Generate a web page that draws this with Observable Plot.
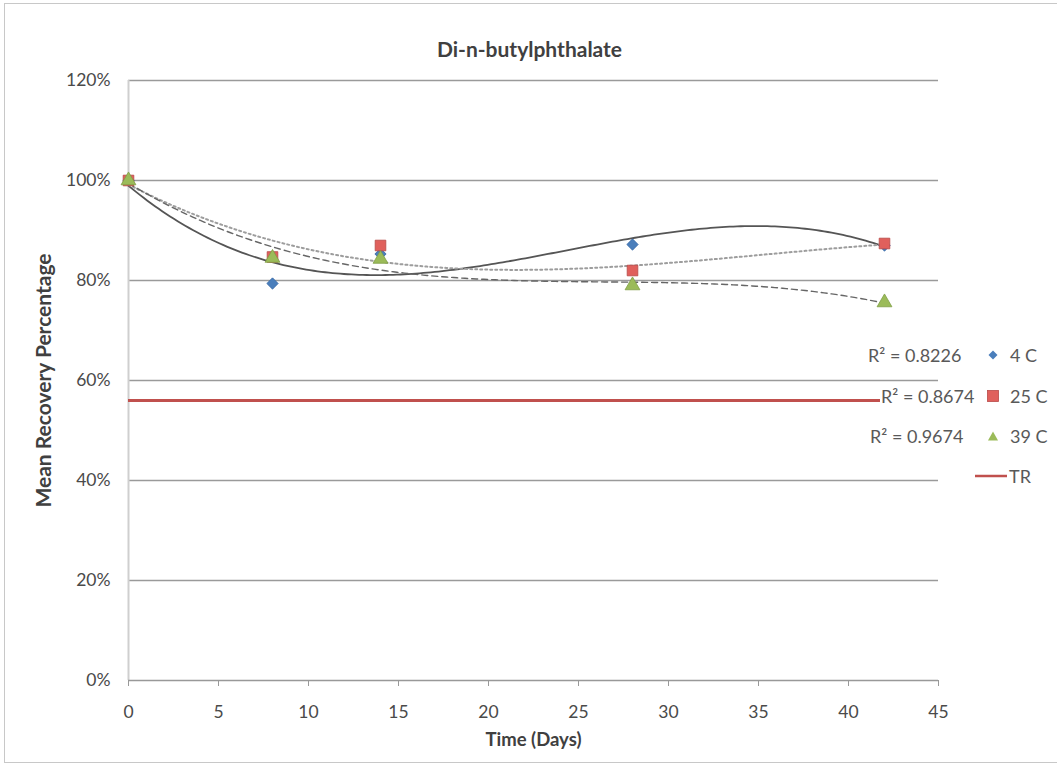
<!DOCTYPE html>
<html>
<head>
<meta charset="utf-8">
<script src="https://cdn.jsdelivr.net/npm/d3@7"></script>
<script src="https://cdn.jsdelivr.net/npm/@observablehq/plot@0.6"></script>
<style>
  html, body { margin: 0; padding: 0; background: #fff; }
  #wrap { position: relative; width: 1057px; height: 770px; overflow: hidden; font-family: Lato, "Open Sans", sans-serif; }
  #frame { position: absolute; left: 4px; top: 3px; width: 1060px; height: 760px; border: 1px solid #c8c8c8; box-sizing: border-box; pointer-events: none; }
  .ov { position: absolute; color: #595959; font-size: 18px; white-space: nowrap; line-height: 22px; }
  .r2 { background: #fff; padding: 0 1px; }
</style>
</head>
<body>
<div id="wrap"><div id="frame"></div></div>
<script>
// ---- data ----
const days = [0, 8, 14, 28, 42];
const rec4C = [100, 79.4, 85.3, 87.2, 87.0];
const rec25C = [100, 84.7, 87.0, 82.0, 87.4];
const rec39C = [100, 84.5, 84.3, 79.0, 75.6];
const trValue = 56;
const seriesNames = ["4 C", "25 C", "39 C", "TR"];
const r2Labels = ["R² = 0.8226", "R² = 0.8674", "R² = 0.9674"];
const xTicks = [0, 5, 10, 15, 20, 25, 30, 35, 40, 45];
const yTicks = [0, 20, 40, 60, 80, 100, 120];

// ---- polynomial (order 3) trendlines, as the original's trendlines ----
function polyfit(xs, ys, deg) {
  const n = deg + 1;
  const A = Array.from({length: n}, () => new Array(n + 1).fill(0));
  for (let i = 0; i < xs.length; i++) {
    for (let r = 0; r < n; r++) {
      for (let c = 0; c < n; c++) A[r][c] += Math.pow(xs[i], r + c);
      A[r][n] += ys[i] * Math.pow(xs[i], r);
    }
  }
  for (let p = 0; p < n; p++) {
    let m = p;
    for (let r = p + 1; r < n; r++) if (Math.abs(A[r][p]) > Math.abs(A[m][p])) m = r;
    [A[p], A[m]] = [A[m], A[p]];
    for (let r = 0; r < n; r++) {
      if (r === p) continue;
      const f = A[r][p] / A[p][p];
      for (let c = p; c <= n; c++) A[r][c] -= f * A[p][c];
    }
  }
  return A.map((row, i) => row[n] / row[i]);
}
function trend(xs, ys) {
  const co = polyfit(xs, ys, 3);
  const out = [];
  const x0 = d3.min(xs), x1 = d3.max(xs);
  for (let k = 0; k <= 200; k++) {
    const x = x0 + (x1 - x0) * k / 200;
    out.push({x, y: co.reduce((s, c, i) => s + c * Math.pow(x, i), 0)});
  }
  return out;
}
const pts = (ys) => days.map((d, i) => ({x: d, y: ys[i]}));
const t4 = trend(days, rec4C), t25 = trend(days, rec25C), t39 = trend(days, rec39C);

const colors = {c4: "#4a7ebb", c25: "#e0605c", c39: "#9bbb59", tr: "#c0504d"};

const chart = Plot.plot({
  width: 1057,
  height: 770,
  marginLeft: 128,
  marginRight: 119,
  marginTop: 80,
  marginBottom: 90,
  style: {fontFamily: "Lato, 'Open Sans', sans-serif", fontSize: "17.5px", color: "#4a4a4a", background: "transparent"},
  x: {domain: [0, 45]},
  y: {domain: [0, 120]},
  marks: [
    Plot.gridY(yTicks.filter(d => d > 0), {stroke: "#9a9a9a", strokeOpacity: 1, strokeWidth: 1.3}),
    Plot.ruleX([0], {stroke: "#cfcfcf", strokeWidth: 2}),
    Plot.ruleY([0], {stroke: "#999", strokeWidth: 1.5}),
    Plot.axisX({ticks: xTicks, tickSize: 6, tickPadding: 19, stroke: "#999", label: null, fontSize: 17.5}),
    Plot.axisY({ticks: yTicks, tickSize: 0, tickPadding: 18, tickFormat: d => d + "%", label: null, fontSize: 17.5}),
    Plot.ruleY([trValue], {x1: 0, x2: 45, stroke: colors.tr, strokeWidth: 3}),
    Plot.line(t4, {x: "x", y: "y", stroke: "#555", strokeWidth: 1.8}),
    Plot.line(t25, {x: "x", y: "y", stroke: "#9d9d9d", strokeWidth: 2, strokeDasharray: "2,3"}),
    Plot.line(t39, {x: "x", y: "y", stroke: "#666", strokeWidth: 1.4, strokeDasharray: "6,4"}),
    Plot.dot(pts(rec4C), {x: "x", y: "y", symbol: "square", rotate: 45, r: 4.5, fill: colors.c4, stroke: "#3a6aa8", strokeWidth: 0.8}),
    Plot.dot(pts(rec25C), {x: "x", y: "y", symbol: "square", r: 6, fill: colors.c25, stroke: "#b84a47", strokeWidth: 0.8}),
    Plot.dot(pts(rec39C), {x: "x", y: "y", symbol: "triangle", r: 5.5, fill: colors.c39, stroke: "#7f9e45", strokeWidth: 0.8}),
    Plot.text(["Di-n-butylphthalate"], {frameAnchor: "top", dy: -38, dx: -4, fontSize: 21, fontWeight: "bold", fill: "#404040"}),
    Plot.text(["Time (Days)"], {frameAnchor: "bottom", dy: 65, fontSize: 18.5, fontWeight: "bold", fill: "#404040"}),
    Plot.text(["Mean Recovery Percentage"], {frameAnchor: "left", dx: -84, rotate: -90, textAnchor: "middle", fontSize: 21, fontWeight: "bold", fill: "#404040"})
  ]
});
const wrap = document.getElementById("wrap");
wrap.insertBefore(chart, wrap.firstChild);

// ---- R² labels and legend overlay ----
const legendY = [355, 396, 436, 476];
const r2X = [867, 880, 869];
r2Labels.forEach((t, i) => {
  const d = document.createElement("div");
  d.className = "ov r2";
  d.style.left = r2X[i] + "px";
  d.style.top = (legendY[i] - 11) + "px";
  d.textContent = t;
  wrap.appendChild(d);
});
const markerSvg = [
  `<svg width="12" height="12"><path d="M6 1.5 L10.5 6 L6 10.5 L1.5 6 Z" fill="${colors.c4}"/></svg>`,
  `<svg width="12" height="12"><rect x="0.5" y="0.5" width="11" height="11" fill="${colors.c25}" stroke="#b84a47" stroke-width="0.8"/></svg>`,
  `<svg width="12" height="12"><path d="M6 1.5 L11 10.5 L1 10.5 Z" fill="${colors.c39}"/></svg>`,
  `<svg width="32" height="12"><line x1="0" y1="6" x2="32" y2="6" stroke="${colors.tr}" stroke-width="2.5"/></svg>`
];
seriesNames.forEach((name, i) => {
  const d = document.createElement("div");
  d.className = "ov";
  d.style.left = (i === 3 ? 975 : 987) + "px";
  d.style.top = (legendY[i] - 11) + "px";
  d.style.display = "flex";
  d.style.alignItems = "center";
  d.innerHTML = markerSvg[i] + `<span style="margin-left:${i === 3 ? 2 : 11}px">${name}</span>`;
  wrap.appendChild(d);
});
</script>
</body>
</html>
